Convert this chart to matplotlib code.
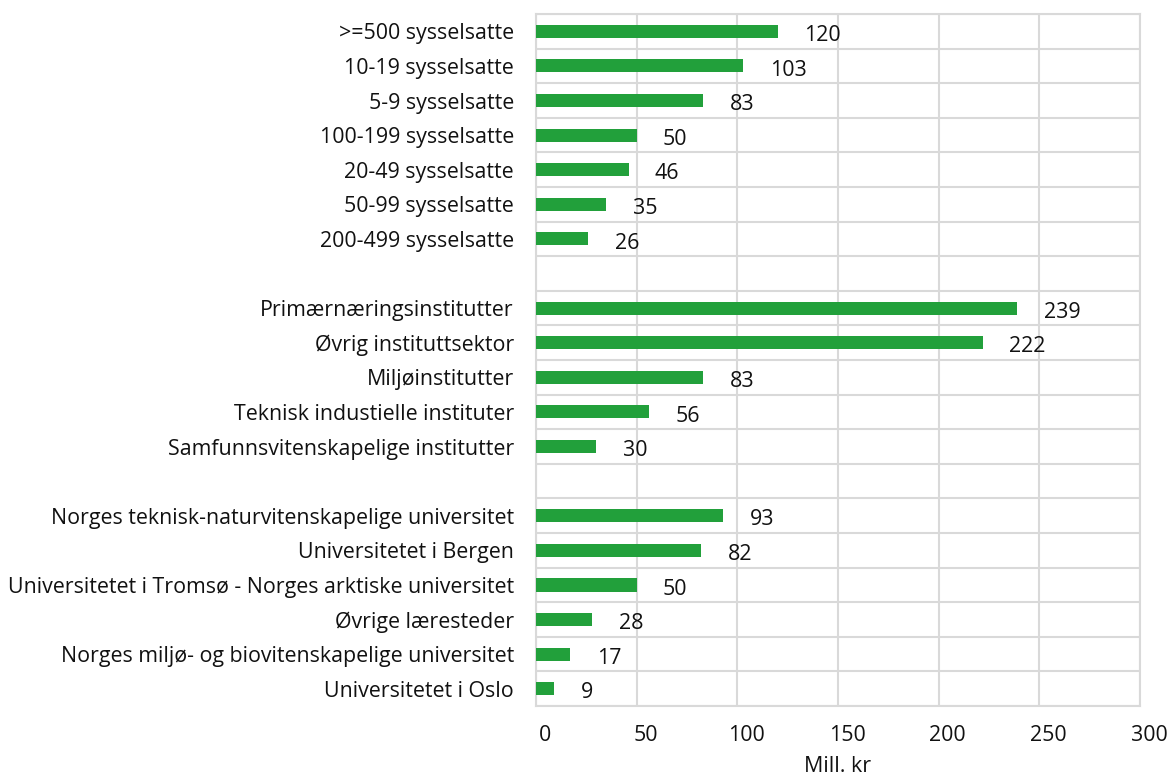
import matplotlib.pyplot as plt
import matplotlib.transforms as mtrans
import numpy as np

plt.rcParams['font.family'] = ['Open Sans', 'DejaVu Sans']

# tre grupper, tom rad mellom hver gruppe
storrelse = [">=500 sysselsatte", "10-19 sysselsatte", "5-9 sysselsatte",
             "100-199 sysselsatte", "20-49 sysselsatte", "50-99 sysselsatte",
             "200-499 sysselsatte"]
storrelse_verdi = [120, 103, 83, 50, 46, 35, 26]

institutt = ["Primærnæringsinstitutter", "Øvrig instituttsektor", "Miljøinstitutter",
             "Teknisk industielle instituter", "Samfunnsvitenskapelige institutter"]
institutt_verdi = [239, 222, 83, 56, 30]

laerested = ["Norges teknisk-naturvitenskapelige universitet", "Universitetet i Bergen",
             "Universitetet i Tromsø - Norges arktiske universitet", "Øvrige læresteder",
             "Norges miljø- og biovitenskapelige universitet", "Universitetet i Oslo"]
laerested_verdi = [93, 82, 50, 28, 17, 9]

xticks = [0, 50, 100, 150, 200, 250, 300]

labels = storrelse + [""] + institutt + [""] + laerested
verdier = storrelse_verdi + [None] + institutt_verdi + [None] + laerested_verdi
n = len(labels)
y = np.arange(n)

fs = 15.4
tekst = "#111111"
gruen = "#22a03b"
grid = "#d9d9d9"

fig = plt.figure(figsize=(11.69, 7.78), dpi=100)
ax = fig.add_axes([0.4585, 0.0925, 0.5167, 0.8895])

for yi, v in zip(y, verdier):
    if v is None:
        continue
    ax.barh(yi, v, height=0.38, color=gruen, zorder=3)
    ax.annotate(str(v), (v, yi), xytext=(19, -3), textcoords="offset points",
                ha="left", va="center", fontsize=fs, color=tekst, zorder=4)

ax.set_xlim(0, 300)
ax.set_ylim(n - 0.5, -0.5)
ax.set_xticks(xticks)
ax.set_xticklabels([str(t) for t in xticks])
ax.set_yticks(y)
ax.set_yticklabels(labels)
ax.set_yticks(np.arange(-0.5, n, 1), minor=True)

ax.grid(axis="x", which="major", color=grid, linewidth=1.5, zorder=0)
ax.grid(axis="y", which="minor", color=grid, linewidth=1.5, zorder=0)
ax.grid(axis="y", which="major", visible=False)
ax.tick_params(axis="both", which="both", length=0)
ax.tick_params(axis="y", pad=16, labelsize=fs, colors=tekst)
ax.tick_params(axis="x", pad=14, labelsize=fs, colors=tekst)
for s in ax.spines.values():
    s.set_color(grid)
    s.set_linewidth(1.5)

# tallene står litt til høyre for linjene
off = mtrans.ScaledTranslation(9 / 100, 0, fig.dpi_scale_trans)
for lbl in ax.get_xticklabels():
    lbl.set_transform(lbl.get_transform() + off)

ax.set_xlabel("Mill. kr", fontsize=fs, color=tekst, labelpad=7)

fig.savefig("out.png", dpi=100)
